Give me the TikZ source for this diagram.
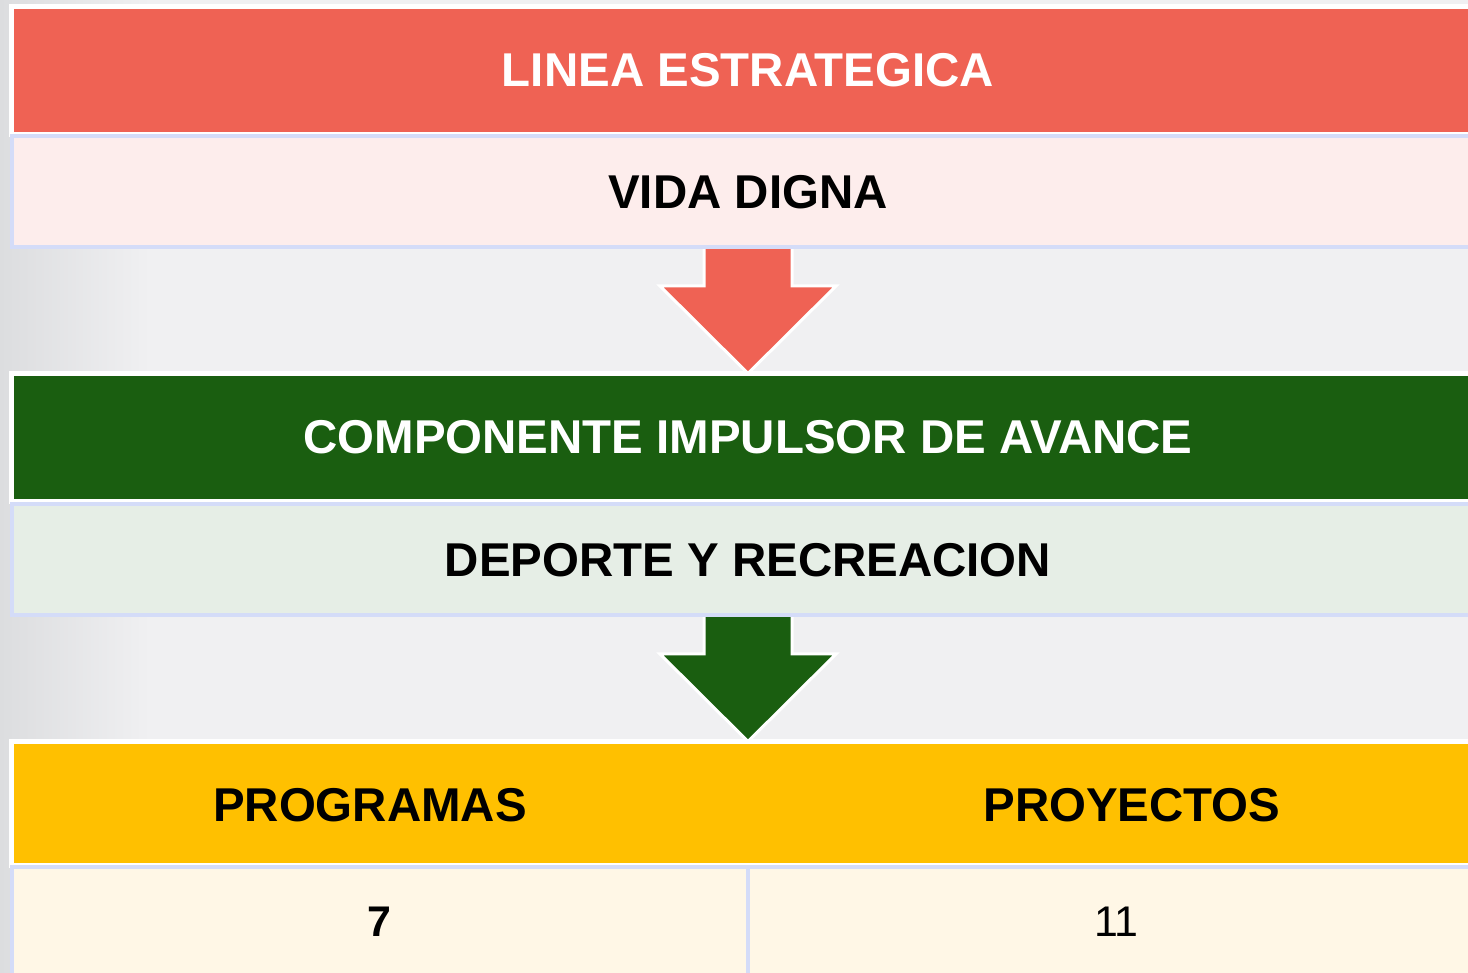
\documentclass[tikz,border=0pt]{standalone}
\usepackage{fontspec}
\setmainfont{Liberation Sans}
\usetikzlibrary{positioning}

\definecolor{fondo}{HTML}{F0F0F2}
\definecolor{fondoosc}{HTML}{DCDDDF}
\definecolor{rojo}{HTML}{EF6254}
\definecolor{rosa}{HTML}{FDEDEC}
\definecolor{verde}{HTML}{1A5E10}
\definecolor{verdeclaro}{HTML}{E6EEE6}
\definecolor{amarillo}{HTML}{FFC000}
\definecolor{crema}{HTML}{FFF7E6}
\definecolor{lila}{HTML}{D4DCF8}

\tikzset{
  band/.style={rectangle, draw=white, line width=0.5mm, outer sep=0pt,
    minimum width=147.3mm, minimum height=12.8mm, text=white,
    font=\fontsize{13.5}{16}\selectfont\bfseries},
  fila/.style={rectangle, draw=lila, line width=0.4mm, outer sep=0pt,
    minimum width=147.3mm, minimum height=11.05mm,
    font=\fontsize{13.5}{16}\selectfont\bfseries},
  celda/.style={rectangle, draw=lila, line width=0.4mm, outer sep=0pt, fill=crema,
    minimum width=73.65mm, minimum height=10.9mm,
    font=\fontsize{12.2}{14}\selectfont},
  flecha/.style={draw=white, line width=0.3mm, line join=miter}
}

\begin{document}
\begin{tikzpicture}[x=0.1mm,y=-0.1mm]
\useasboundingbox (0,0) rectangle (1468,973);
\clip (0,0) rectangle (1468,973);
% fondo
\fill[fondo] (0,0) rectangle (1468,973);
\shade[left color=fondoosc, right color=fondo] (0,0) rectangle (150,973);

% franjas
\node[band, fill=rojo] (linea) at (748,70.5) {LINEA ESTRATEGICA};
\node[band, fill=verde] (compo) at (748,437.5) {COMPONENTE IMPULSOR DE AVANCE};
\node[band, fill=amarillo, minimum height=12.4mm] (encab) at (748,803.5) {};

% flechas
\draw[flecha, fill=rojo] (748,247) ++(-44,0) -- ++(0,39) -- ++(-44,0)
  -- (compo.north) -- ++(88,-87.5) -- ++(-44,0) -- ++(0,-39) -- cycle;
\draw[flecha, fill=verde] (748,615) ++(-44,0) -- ++(0,39) -- ++(-44,0)
  -- (encab.north) -- ++(88,-87.5) -- ++(-44,0) -- ++(0,-39) -- cycle;

% filas
\node[fila, fill=rosa, below=0.2mm of linea] (vida) {VIDA DIGNA};
\node[fila, fill=verdeclaro, below=0.3mm of compo] (deporte) {DEPORTE Y RECREACION};

% tabla
\node[font=\fontsize{13.5}{16}\selectfont\bfseries] (prog) at (370,805) {PROGRAMAS};
\node[font=\fontsize{13.5}{16}\selectfont\bfseries] (proy) at (1132,805) {PROYECTOS};
\node[celda, font=\fontsize{12.2}{14}\selectfont\bfseries] (nprog) at (379.75,922) {7};
\node[celda] (nproy) at (1116.25,922) {11};
\end{tikzpicture}
\end{document}
